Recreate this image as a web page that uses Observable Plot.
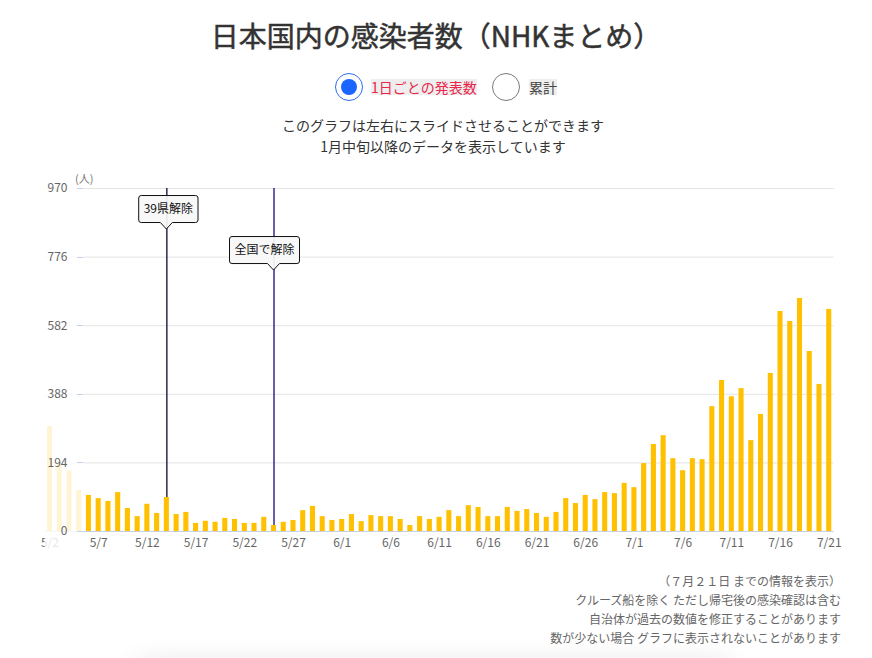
<!DOCTYPE html>
<html><head><meta charset="utf-8">
<script src="https://cdn.jsdelivr.net/npm/d3@7"></script>
<script src="https://cdn.jsdelivr.net/npm/@observablehq/plot@0.6"></script>
<style>
html,body{margin:0;padding:0;background:#fff;}
body{width:872px;height:658px;position:relative;overflow:hidden;font-family:"Noto Sans CJK JP","Noto Sans",sans-serif;}
.abs{position:absolute;}
#title{top:15px;left:0;width:872px;text-align:center;font-size:28px;line-height:40px;font-weight:400;color:#333;-webkit-text-stroke:0.5px #333;}
.ring{box-sizing:border-box;width:28px;height:28px;border-radius:50%;top:73px;}
#r1{left:335px;border:1.5px solid #2f6df6;}
#r1dot{left:341px;top:79px;width:16px;height:16px;border-radius:50%;background:#1a66ff;}
#r2{left:492px;border:1.5px solid #7a7a7a;}
.rl{top:79px;font-size:14px;line-height:16px;background:#eeeeee;}
#l1{left:371px;color:#e8264c;}
#l2{left:529px;color:#444;}
#sub{top:115px;left:7px;width:872px;text-align:center;font-size:14px;line-height:21px;color:#333;}
#chart{top:165px;left:0;}
#notes{top:571px;left:0;width:841px;text-align:right;font-size:12px;line-height:19px;color:#666;}
#shadow{top:668px;left:140px;width:590px;height:40px;background:#fff;border-radius:8px;box-shadow:0 0 28px 4px rgba(0,0,0,0.13);}
</style></head>
<body>
<div id="title" class="abs">日本国内の感染者数（NHKまとめ）</div>
<div id="r1" class="abs ring"></div><div id="r1dot" class="abs"></div>
<div id="l1" class="abs rl">1日ごとの発表数</div>
<div id="r2" class="abs ring"></div>
<div id="l2" class="abs rl">累計</div>
<div id="sub" class="abs">このグラフは左右にスライドさせることができます<br>1月中旬以降のデータを表示しています</div>
<div id="chart" class="abs"></div>
<div id="notes" class="abs">（７月２１日 までの情報を表示）<br>クルーズ船を除く ただし帰宅後の感染確認は含む<br>自治体が過去の数値を修正することがあります<br>数が少ない場合 グラフに表示されないことがあります</div>
<div id="shadow" class="abs"></div>
<script>
const dates = ["5/2","5/3","5/4","5/5","5/6","5/7","5/8","5/9","5/10","5/11","5/12","5/13","5/14","5/15","5/16","5/17","5/18","5/19","5/20","5/21","5/22","5/23","5/24","5/25","5/26","5/27","5/28","5/29","5/30","5/31",
"6/1","6/2","6/3","6/4","6/5","6/6","6/7","6/8","6/9","6/10","6/11","6/12","6/13","6/14","6/15","6/16","6/17","6/18","6/19","6/20","6/21","6/22","6/23","6/24","6/25","6/26","6/27","6/28","6/29","6/30",
"7/1","7/2","7/3","7/4","7/5","7/6","7/7","7/8","7/9","7/10","7/11","7/12","7/13","7/14","7/15","7/16","7/17","7/18","7/19","7/20","7/21"];
const cases = [297,191,172,116,102,93,85,110,65,42,77,51,96,48,54,23,29,26,37,34,23,23,40,17,26,31,59,71,42,31,
34,48,28,45,42,42,34,17,42,34,40,59,42,73,68,42,42,68,57,62,51,40,54,93,79,102,90,110,107,136,
124,192,246,271,206,172,206,203,353,427,381,404,257,331,447,622,594,659,509,416,628];
const xTickLabels = ["5/2","5/7","5/12","5/17","5/22","5/27","6/1","6/6","6/11","6/16","6/21","6/26","7/1","7/6","7/11","7/16","7/21"];
const yTicks = [0,194,388,582,776,970];
const eventDates = ["5/14","5/25"];
const eventLabels = ["39県解除","全国で解除"];
const eventLevels = [854,738];

const data = dates.map((d,i)=>({date:d, value:cases[i]}));
const events = eventDates.map((d,i)=>({date:d, label:eventLabels[i], level:eventLevels[i]}));

// styles
const barColor = "#ffc000";
const eventColors = ["#0d0930","#170a7e"];
const boxShift = [2,-9];
const fadedCount = 4;
const font = "'Noto Sans CJK JP','Noto Sans',sans-serif";

function overlayMark(index, scales, values, dim) {
  const g = d3.create("svg:g");
  const x = scales.x, bw = x.bandwidth();
  const x0 = dim.marginLeft;
  const lastFaded = dates[fadedCount-1], firstFull = dates[fadedCount];
  const x1 = (x(lastFaded) + bw + x(firstFull)) / 2;
  g.append("rect").attr("x", x0).attr("y", dim.marginTop - 2)
    .attr("width", x1 - x0).attr("height", dim.height - dim.marginTop + 2)
    .attr("fill", "#fff").attr("fill-opacity", 0.83);
  return g.node();
}

function yTickMarks(index, scales, values, dim) {
  const g = d3.create("svg:g");
  const xa = dim.marginLeft + 32.5;
  for (const t of yTicks) {
    const y = Math.round(scales.y(t)) + 0.5;
    g.append("line").attr("x1", xa).attr("x2", xa + 6).attr("y1", y).attr("y2", y)
      .attr("stroke", "#c3d0ee").attr("stroke-width", 1);
  }
  return g.node();
}

function calloutMark(index, scales, values, dim) {
  const g = d3.create("svg:g");
  const ctx = document.createElement("canvas").getContext("2d");
  ctx.font = "12px " + font;
  const x = scales.x, bw = x.bandwidth();
  events.forEach((e, i) => {
    const tx = x(e.date) + bw / 2;
    const ty = scales.y(e.level);
    const tw = ctx.measureText(e.label).width;
    const w = tw + 10, h = 27, ph = 6.5, pw = 6, r = 2.5;
    const cx = tx + boxShift[i];
    const left = cx - w / 2, right = cx + w / 2, bottom = ty - ph, top = bottom - h;
    const p = `M${left + r},${top}H${right - r}Q${right},${top} ${right},${top + r}V${bottom - r}Q${right},${bottom} ${right - r},${bottom}H${tx + pw}L${tx},${ty}L${tx - pw},${bottom}H${left + r}Q${left},${bottom} ${left},${bottom - r}V${top + r}Q${left},${top} ${left + r},${top}Z`;
    g.append("path").attr("d", p).attr("fill", "#f7f7f7").attr("fill-opacity", 0.93)
      .attr("stroke", "#111").attr("stroke-width", 1);
    g.append("text").attr("x", cx).attr("y", (top + bottom) / 2).attr("dy", "0.36em")
      .attr("text-anchor", "middle").attr("font-size", 12).attr("fill", "#111")
      .style("font-family", font).text(e.label);
  });
  return g.node();
}

const chart = Plot.plot({
  width: 872,
  height: 400,
  marginTop: 23,
  marginBottom: 34,
  marginLeft: 44.6,
  marginRight: 38.4,
  style: {fontFamily: font, background: "transparent", overflow: "visible"},
  x: {type: "band", domain: dates, paddingInner: 0.48, paddingOuter: 0.24, axis: null},
  y: {domain: [0, 970], axis: null},
  marks: [
    Plot.ruleY(yTicks.filter(t => t > 0), {stroke: "#e4e4e4", strokeWidth: 1}),
    Plot.ruleX(events, {x: "date", y1: 0, y2: 970, stroke: (d, i) => eventColors[i], strokeWidth: 1.3}),
    Plot.barY(data, {x: "date", y: "value", fill: barColor}),
    Plot.ruleY([0], {stroke: "#c8cfe0", strokeWidth: 1.2}),
    Plot.text(xTickLabels, {x: d => d, text: d => d, frameAnchor: "bottom", dy: 15, fill: "#666", fontSize: 12}),
    overlayMark,
    yTickMarks,
    Plot.text(yTicks, {y: d => d, text: d => String(d), frameAnchor: "left", textAnchor: "end", dx: 22.4, fill: "#666", fontSize: 12}),
    Plot.text(["(人)"], {frameAnchor: "top-left", text: d => d, textAnchor: "start", dx: 30, dy: -13, fill: "#777", fontSize: 11}),
    calloutMark
  ]
});
document.getElementById("chart").appendChild(chart);
</script>
</body></html>
